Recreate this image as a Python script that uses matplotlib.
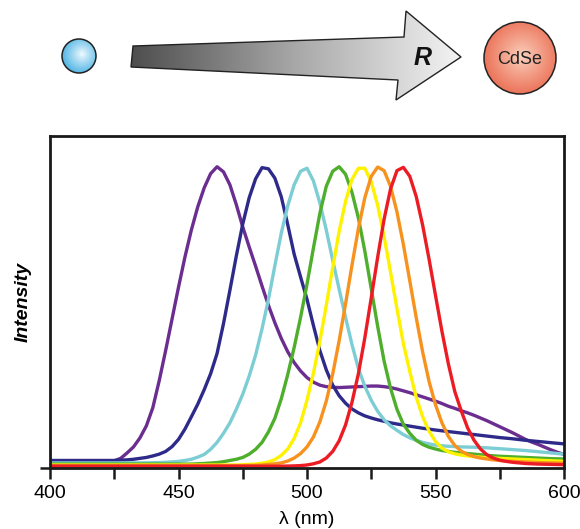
import numpy as np
import matplotlib
matplotlib.use("Agg")
import matplotlib.pyplot as plt
from matplotlib.patches import Polygon, Circle
from matplotlib.colors import LinearSegmentedColormap, to_rgb

plt.rcParams['font.family'] = ['Liberation Sans', 'DejaVu Sans']

# ---------------- data ----------------
wavelength = [400, 402.5, 405, 407.5, 410, 412.5, 415, 417.5, 420, 422.5,
              425, 427.5, 430, 432.5, 435, 437.5, 440, 442.5, 445, 447.5,
              450, 452.5, 455, 457.5, 460, 462.5, 465, 467.5, 470, 472.5,
              475, 477.5, 480, 482.5, 485, 487.5, 490, 492.5, 495, 497.5,
              500, 502.5, 505, 507.5, 510, 512.5, 515, 517.5, 520, 522.5,
              525, 527.5, 530, 532.5, 535, 537.5, 540, 542.5, 545, 547.5,
              550, 552.5, 555, 557.5, 560, 562.5, 565, 567.5, 570, 572.5,
              575, 577.5, 580, 582.5, 585, 587.5, 590, 592.5, 595, 597.5,
              600]

purple = [.023, .023, .023, .023, .023, .023, .023, .023, .023, .023,
          .024, .032, .05, .07, .10, .14, .20, .29, .39, .495,
          .60, .70, .79, .867, .93, .977, 1.0, .983, .94, .874,
          .80, .734, .67, .604, .54, .482, .43, .386, .35, .322,
          .30, .285, .275, .27, .268, .267, .268, .269, .27, .271,
          .272, .272, .27, .267, .262, .256, .25, .243, .236, .229,
          .222, .214, .205, .198, .19, .183, .175, .166, .157, .147,
          .137, .127, .117, .106, .095, .086, .078, .069, .06, .052,
          .045]
navy = [.025, .025, .025, .025, .025, .025, .025, .025, .025, .025,
        .025, .026, .027, .029, .032, .035, .04, .046, .055, .071,
        .095, .129, .17, .212, .26, .313, .38, .479, .59, .704,
        .81, .897, .96, .997, .993, .962, .90, .808, .71, .634,
        .56, .473, .39, .326, .275, .24, .215, .196, .183, .173,
        .166, .16, .155, .15, .146, .1425, .139, .1355, .132, .129,
        .126, .1235, .121, .1185, .116, .1135, .111, .1085, .106, .1035,
        .101, .099, .097, .0945, .092, .09, .088, .086, .084, .082,
        .08]
cyan = [.017, .017, .017, .017, .017, .017, .017, .017, .017, .017,
        .017, .017, .017, .017, .017, .0172, .0175, .018, .019, .0205,
        .022, .025, .029, .036, .045, .062, .085, .115, .15, .195,
        .245, .305, .375, .462, .56, .672, .78, .87, .94, .985,
        .995, .953, .88, .79, .69, .594, .50, .41, .33, .271,
        .225, .188, .16, .14, .125, .111, .10, .092, .085, .08,
        .076, .074, .072, .071, .07, .0695, .069, .068, .067, .0655,
        .064, .0625, .061, .0595, .058, .056, .054, .052, .05, .048,
        .046]
green = [.013, .013, .013, .013, .013, .013, .013, .013, .013, .013,
         .013, .013, .013, .013, .013, .013, .013, .013, .013, .013,
         .013, .013, .013, .014, .015, .0165, .018, .021, .025, .029,
         .035, .046, .062, .085, .12, .165, .23, .31, .40, .50,
         .61, .73, .845, .935, .985, 1.0, .975, .915, .83, .72,
         .595, .47, .355, .265, .195, .145, .115, .092, .078, .069,
         .063, .058, .055, .052, .05, .048, .046, .044, .042, .0405,
         .039, .038, .037, .036, .035, .034, .033, .032, .031, .0305,
         .03]
yellow = [.010, .010, .010, .010, .010, .010, .010, .010, .010, .010,
          .010, .010, .010, .010, .010, .010, .010, .010, .010, .010,
          .010, .010, .010, .010, .010, .010, .010, .010, .010, .010,
          .011, .012, .013, .016, .02, .028, .042, .063, .098, .15,
          .225, .315, .42, .54, .665, .785, .885, .958, .995, .995,
          .95, .872, .768, .65, .529, .413, .32, .235, .17, .122,
          .088, .066, .054, .047, .043, .04, .038, .036, .034, .033,
          .032, .031, .03, .029, .028, .027, .026, .025, .024, .023,
          .022]
orange = [.008, .008, .008, .008, .008, .008, .008, .008, .008, .008,
          .008, .008, .008, .008, .008, .008, .008, .008, .008, .008,
          .008, .008, .008, .008, .008, .008, .008, .008, .008, .008,
          .008, .0085, .009, .010, .012, .014, .017, .023, .033, .048,
          .07, .103, .153, .222, .312, .422, .545, .673, .795, .897,
          .968, .999, .987, .935, .85, .742, .621, .499, .385, .287,
          .21, .15, .105, .075, .056, .045, .038, .033, .03, .027,
          .025, .023, .022, .021, .02, .019, .018, .0175, .017, .0165,
          .016]
red = [.006, .006, .006, .006, .006, .006, .006, .006, .006, .006,
       .006, .006, .006, .006, .006, .006, .006, .006, .006, .006,
       .006, .006, .006, .006, .006, .006, .006, .006, .006, .006,
       .006, .006, .006, .006, .006, .006, .006, .0065, .007, .008,
       .01, .014, .02, .033, .055, .09, .143, .218, .313, .432,
       .565, .70, .826, .926, .987, .998, .968, .901, .806, .693,
       .573, .454, .346, .254, .19, .133, .092, .063, .044, .033,
       .026, .022, .019, .017, .015, .014, .013, .0125, .012, .0115,
       .011]

series = [purple, navy, cyan, green, yellow, orange, red]
colors = ['#6b2d8f', '#2e2a8a', '#7ccdd4', '#4fae2c', '#fff200', '#f7921e', '#ec1c24']

xticks_major = [400, 450, 500, 550, 600]
xticks_minor = [425, 475, 525, 575]

# ---------------- figure ----------------
W, H = 580, 529
fig = plt.figure(figsize=(W / 100, H / 100), dpi=100)

# main plot axes (pixel box: left 50, right 564, top 136, bottom 468)
ax = fig.add_axes([50 / W, 1 - 468 / H, 514 / W, 332 / H])
for ys, c in zip(series, colors):
    ax.plot(wavelength, ys, color=c, lw=2.4, solid_capstyle='round',
            solid_joinstyle='round')
ax.set_xlim(400, 600)
ax.set_ylim(0, 1.102)
for sp in ax.spines.values():
    sp.set_linewidth(2.0)
    sp.set_color('#1a1a1a')
ax.set_xticks(xticks_major)
ax.set_xticks(xticks_minor, minor=True)
ax.tick_params(axis='x', which='both', direction='out', length=8, width=1.8,
               labelsize=14, pad=4, color='#1a1a1a')
ax.set_yticks([0])
ax.set_yticklabels([])
ax.tick_params(axis='y', direction='out', length=7, width=1.8, color='#1a1a1a')
ax.set_xlabel('λ (nm)', fontsize=14, labelpad=7)
ax.set_ylabel('Intensity', fontsize=14, fontweight='bold', fontstyle='italic',
              labelpad=3)

# ---------------- schematic on top ----------------
ov = fig.add_axes([0, 0, 1, 1], zorder=-1)
ov.set_xlim(0, W)
ov.set_ylim(H, 0)
ov.axis('off')

# gradient arrow
arrow_pts = [(133, 46), (404, 37), (406, 11), (461, 57), (396, 100), (398, 80), (131, 67)]
arrow = Polygon(arrow_pts, closed=True, facecolor='none', edgecolor='#222222', lw=1.0, zorder=3)
grad = np.linspace(0, 1, 256).reshape(1, -1)
cmap = LinearSegmentedColormap.from_list('g', ['#4d4d4d', '#a8a8a8', '#f4f4f4'])
im = ov.imshow(grad, cmap=cmap, extent=[130, 462, 102, 9], aspect='auto', zorder=2)
clip = Polygon(arrow_pts, closed=True, transform=ov.transData)
im.set_clip_path(clip)
ov.add_patch(arrow)
ov.text(423, 58, 'R', fontsize=18, fontweight='bold', fontstyle='italic',
        ha='center', va='center', color='#111111', zorder=4)


def sphere(cx, cy, r, c_in, c_out, hx, hy):
    n = 200
    xs = np.linspace(cx - r, cx + r, n)
    ys = np.linspace(cy - r, cy + r, n)
    X, Y = np.meshgrid(xs, ys)
    d = np.sqrt((X - hx) ** 2 + (Y - hy) ** 2) / (1.6 * r)
    d = np.clip(d, 0, 1) ** 0.9
    ci = np.array(to_rgb(c_in))
    co = np.array(to_rgb(c_out))
    img = ci[None, None, :] * (1 - d[..., None]) + co[None, None, :] * d[..., None]
    im2 = ov.imshow(img, extent=[cx - r, cx + r, cy + r, cy - r], zorder=2,
                    interpolation='bilinear')
    circ = Circle((cx, cy), r, transform=ov.transData)
    im2.set_clip_path(circ)
    ov.add_patch(Circle((cx, cy), r, facecolor='none', edgecolor='#222222', lw=1.1, zorder=3))


sphere(79, 56, 17, '#f2fbff', '#1f9fdc', 82, 54)
sphere(520, 58, 36, '#fbd3c0', '#e5492c', 522, 56)
ov.text(520, 59, 'CdSe', fontsize=13, ha='center', va='center', color='#222222', zorder=4)

fig.savefig('out.png', dpi=100)
